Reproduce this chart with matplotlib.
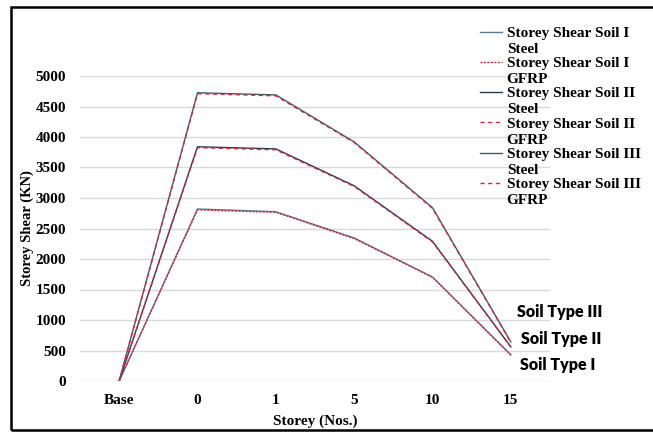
import numpy as np
import matplotlib
matplotlib.use("Agg")
import matplotlib.pyplot as plt
from matplotlib.legend_handler import HandlerLine2D
from matplotlib.patches import Rectangle

storeys = ["Base", "0", "1", "5", "10", "15"]

soil1_steel = [0, 2820, 2775, 2345, 1705, 430]
soil1_gfrp = [0, 2805, 2765, 2335, 1700, 425]
soil2_steel = [0, 3840, 3805, 3200, 2290, 560]
soil2_gfrp = [0, 3825, 3790, 3190, 2280, 555]
soil3_steel = [0, 4725, 4690, 3920, 2840, 640]
soil3_gfrp = [0, 4710, 4675, 3910, 2830, 635]

soil_labels = ["Soil Type III", "Soil Type II", "Soil Type I"]
soil_label_x = [5.08, 5.13, 5.12]
soil_label_y = [1130, 690, 265]

serif = "Liberation Serif"


class FirstLineHandler(HandlerLine2D):
    # put the legend line next to the first line of a two-line label
    def create_artists(self, legend, orig_handle, xdescent, ydescent,
                       width, height, fontsize, trans):
        arts = super().create_artists(legend, orig_handle, xdescent, ydescent,
                                      width, height, fontsize, trans)
        for a in arts:
            a.set_ydata(np.asarray(a.get_ydata(), dtype=float) + 0.62 * fontsize)
        return arts


fig = plt.figure(figsize=(6.53, 4.32), dpi=100)
ax = fig.add_axes([80 / 653, 1 - 381 / 432, 470 / 653, 305 / 432])

x = np.arange(len(storeys))
ax.plot(x, soil1_steel, color="#5a7896", lw=1.0, label="Storey Shear Soil I\nSteel")
ax.plot(x, soil1_gfrp, color="#d02a3a", lw=1.0, ls=(0, (1.5, 1)), label="Storey Shear Soil I\nGFRP")
ax.plot(x, soil2_steel, color="#28385a", lw=1.0, label="Storey Shear Soil II\nSteel")
ax.plot(x, soil2_gfrp, color="#d02a3a", lw=1.0, ls=(0, (3, 2.5)), label="Storey Shear Soil II\nGFRP")
ax.plot(x, soil3_steel, color="#3e5c6c", lw=1.0, label="Storey Shear Soil III\nSteel")
ax.plot(x, soil3_gfrp, color="#d02a3a", lw=1.0, ls=(0, (3, 2.5)), label="Storey Shear Soil III\nGFRP")

ax.set_xlim(-0.5, len(storeys) - 0.5)
ax.set_ylim(0, 5000)
ax.set_yticks(np.arange(0, 5001, 500))
ax.set_xticks(x)
ax.set_xticklabels(storeys)
ax.grid(axis="y", color="#d9d9d9", lw=1.0)
ax.set_axisbelow(True)
for s in ax.spines.values():
    s.set_visible(False)
ax.tick_params(length=0, labelsize=11)
ax.tick_params(axis="x", pad=9)
ax.tick_params(axis="y", pad=10)
for t in ax.get_xticklabels() + ax.get_yticklabels():
    t.set_fontfamily(serif)
    t.set_fontweight("bold")

ax.set_xlabel("Storey (Nos.)", fontsize=11, fontfamily=serif, fontweight="bold", labelpad=6)
ax.set_ylabel("Storey Shear (KN)", fontsize=10.5, fontfamily=serif, fontweight="bold", labelpad=1)

for lab, xv, yv in zip(soil_labels, soil_label_x, soil_label_y):
    ax.text(xv, yv, lab, fontsize=11.5, fontfamily="Lato", fontweight="heavy",
            ha="left", va="center")

handler = FirstLineHandler()
leg = ax.legend(loc="upper left", bbox_to_anchor=(480 / 653, 1 - 27 / 432),
                bbox_transform=fig.transFigure, frameon=False, borderpad=0,
                borderaxespad=0, labelspacing=0.08, handlelength=1.45,
                handletextpad=0.3,
                prop={"family": serif, "weight": "bold", "size": 11},
                handler_map={l: handler for l in ax.get_lines()})
for t in leg.get_texts():
    t.set_linespacing(1.3)

# outer frame of the picture
fig.patches.append(Rectangle((11 / 653, 2 / 432), 1.0, 423 / 432,
                             transform=fig.transFigure, fill=False,
                             edgecolor="black", lw=1.8, clip_on=False))

fig.savefig("out.png", dpi=100)
